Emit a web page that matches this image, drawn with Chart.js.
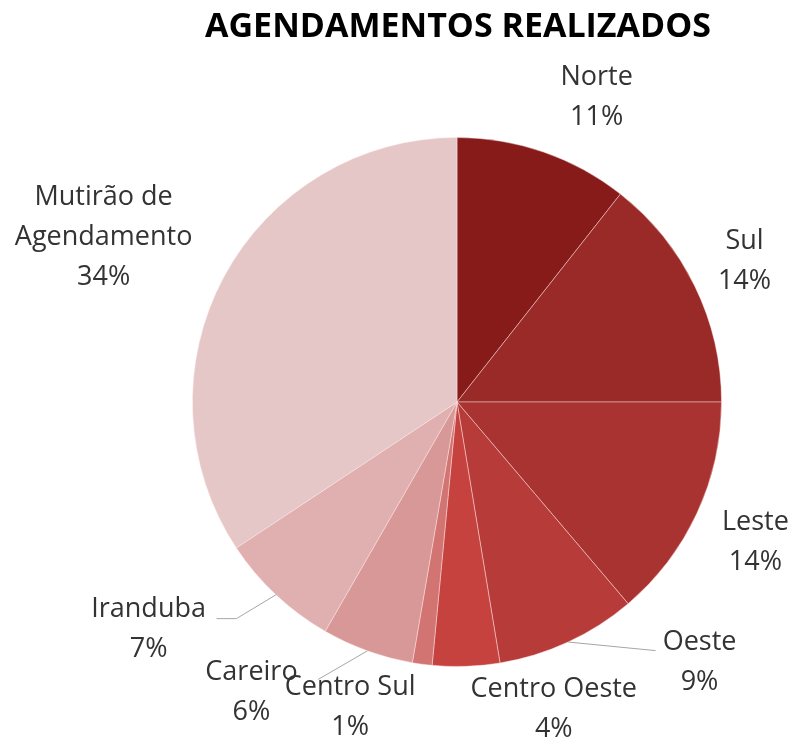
<!DOCTYPE html>
<html>
<head>
<meta charset="utf-8">
<script src="https://cdn.jsdelivr.net/npm/chart.js@4/dist/chart.umd.min.js"></script>
<style>
html,body{margin:0;padding:0;background:#fff;}
#wrap{width:795px;height:742px;position:relative;}
</style>
</head>
<body>
<div id="wrap"><canvas id="c" width="795" height="742"></canvas></div>
<script>
// ---- data ----
const chartTitle = 'AGENDAMENTOS REALIZADOS';
const categories = ['Norte', 'Sul', 'Leste', 'Oeste', 'Centro Oeste', 'Centro Sul', 'Careiro', 'Iranduba', 'Mutirão de\nAgendamento'];
const shares = [10.6, 14.4, 13.8, 8.6, 4.1, 1.2, 5.6, 7.4, 34.3];

// ---- styling (not data) ----
const sliceColors = ['#861b1a', '#9a2a27', '#a83330', '#b73b38', '#c6423f', '#d27472', '#d79897', '#dfb0af', '#e6c7c8'];
// label centre relative to pie centre, in units of the outer radius
const labelPos = [
  [0.528, -1.151], [1.087, -0.532], [1.128, 0.532], [0.917, 0.985],
  [0.366, 1.162], [-0.404, 1.155], [-0.777, 1.098], [-1.166, 0.860], [-1.336, -0.623]
];
// leader line end (relative, radius units); null = no leader
const leaderEnd = [null, null, null, [[0.751, 0.940]], null, null, [[-0.525, 1.049]], [[-0.834, 0.819], [-0.909, 0.819]], null];

const FONT = '"Open Sans", sans-serif';
const labelPlugin = {
  id: 'labels',
  afterDatasetsDraw(chart) {
    const ctx = chart.ctx;
    const meta = chart.getDatasetMeta(0);
    const total = shares.reduce((a, b) => a + b, 0);
    ctx.save();
    // leaders
    ctx.strokeStyle = '#a6a6a6';
    ctx.lineWidth = 1;
    meta.data.forEach((arc, i) => {
      if (!leaderEnd[i]) return;
      const p = arc.getProps(['x', 'y', 'startAngle', 'endAngle', 'outerRadius'], true);
      const mid = (p.startAngle + p.endAngle) / 2;
      ctx.beginPath();
      ctx.moveTo(p.x + Math.cos(mid) * p.outerRadius, p.y + Math.sin(mid) * p.outerRadius);
      leaderEnd[i].forEach(q => ctx.lineTo(p.x + q[0] * p.outerRadius, p.y + q[1] * p.outerRadius));
      ctx.stroke();
    });
    // texts
    ctx.fillStyle = '#333333';
    ctx.font = '27px ' + FONT;
    ctx.textAlign = 'center';
    ctx.textBaseline = 'middle';
    const lh = 40;
    meta.data.forEach((arc, i) => {
      const p = arc.getProps(['x', 'y', 'outerRadius'], true);
      const lines = categories[i].split('\n');
      lines.push(Math.round(shares[i] / total * 100) + '%');
      const cx = p.x + labelPos[i][0] * p.outerRadius;
      const cy = p.y + labelPos[i][1] * p.outerRadius;
      const y0 = cy - (lines.length - 1) * lh / 2;
      lines.forEach((t, k) => ctx.fillText(t, cx, y0 + k * lh));
    });
    // title
    ctx.fillStyle = '#000';
    ctx.font = 'bold 34px ' + FONT;
    ctx.fillText(chartTitle, 458, 27);
    ctx.restore();
  }
};

new Chart(document.getElementById('c'), {
  type: 'pie',
  data: {
    labels: categories,
    datasets: [{
      data: shares,
      backgroundColor: sliceColors,
      borderColor: 'rgba(255,230,230,0.45)',
      borderWidth: 1
    }]
  },
  options: {
    responsive: false,
    animation: false,
    layout: { padding: { left: 192, right: 73, top: 137, bottom: 75 } },
    plugins: { legend: { display: false }, title: { display: false }, tooltip: { enabled: false } }
  },
  plugins: [labelPlugin]
});
</script>
</body>
</html>
